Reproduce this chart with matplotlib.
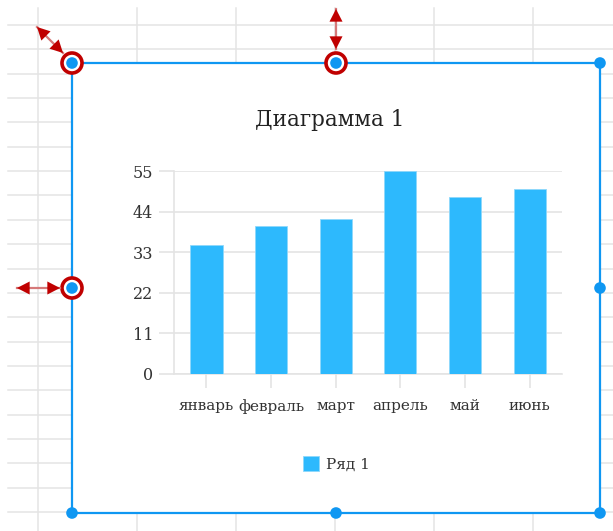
#!/usr/bin/env python3
"""Spreadsheet chart with selection handles, redrawn as a PNG."""
import matplotlib.pyplot as plt
from matplotlib.patches import Circle, Rectangle

# Data
months = ["январь", "февраль", "март", "апрель", "май", "июнь"]
values = [35, 40, 42, 55, 48, 50]
y_ticks = [0, 11, 22, 33, 44, 55]
series_name = "Ряд 1"
title = "Диаграмма 1"

# Colors
BAR = "#2db9fd"
SEL = "#0f97f2"
RED = "#c00000"
GRID = "#e4e4e4"
TEXT = "#333333"

W, H = 613, 531
plt.rcParams["font.family"] = ["DejaVu Serif"]
fig = plt.figure(figsize=(W / 100, H / 100), dpi=100)
fig.patch.set_facecolor("white")

# background layer in pixel coordinates
bg = fig.add_axes([0, 0, 1, 1])
bg.set_xlim(0, W)
bg.set_ylim(H, 0)
bg.axis("off")

# spreadsheet grid
for k in range(21):
    y = 25 + 24.35 * k
    bg.plot([8, W], [y, y], color=GRID, lw=1.1, zorder=1)
for k in range(6):
    x = 38 + 99 * k
    bg.plot([x, x], [8, H], color=GRID, lw=1.1, zorder=1)

# chart frame
x0, y0, x1, y1 = 72, 63, 600, 513
bg.add_patch(Rectangle((x0, y0), x1 - x0, y1 - y0, facecolor="white",
                       edgecolor=SEL, lw=1.6, zorder=2))

# red rings around active handles
xm, ym = (x0 + x1) / 2, (y0 + y1) / 2
for hx, hy in [(x0, y0), (xm, y0), (x0, ym)]:
    bg.add_patch(Circle((hx, hy), 10, facecolor="white", edgecolor=RED,
                        lw=2.6, zorder=3))

# handles
for hx, hy in [(x0, y0), (xm, y0), (x1, y0), (x0, ym), (x1, ym),
               (x0, y1), (xm, y1), (x1, y1)]:
    bg.add_patch(Circle((hx, hy), 5.8, facecolor=SEL, edgecolor="none", zorder=4))

# resize arrows: pale shaft, two solid heads
for (ax_, ay_), (bx_, by_) in [((37, 27), (63, 53)),
                               ((336, 9), (336, 49)),
                               ((17, 288), (60, 288))]:
    bg.plot([ax_, bx_], [ay_, by_], color="#d77a7a", lw=1.6, zorder=5)
    mx, my = (ax_ + bx_) / 2, (ay_ + by_) / 2
    for tx, ty in [(ax_, ay_), (bx_, by_)]:
        bg.annotate("", xy=(tx, ty), xytext=(mx, my),
                    arrowprops=dict(arrowstyle="-|>,head_length=0.7,head_width=0.36",
                                    color=RED, lw=0.01, mutation_scale=13,
                                    shrinkA=0, shrinkB=0),
                    zorder=6)

# the chart itself
left, right, top, bottom = 174, 562, 171, 374
ax = fig.add_axes([left / W, 1 - bottom / H, (right - left) / W, (bottom - top) / H])
ax.set_facecolor("none")
bars = ax.bar(range(len(months)), values, width=0.5, color=BAR,
              edgecolor="#8fd8fb", linewidth=0.6, zorder=3, label=series_name)
ax.set_xlim(-0.5, len(months) - 0.5)
ax.set_ylim(0, 55)
ax.set_yticks(y_ticks)
ax.set_xticks(range(len(months)))
ax.set_xticklabels(months)
ax.yaxis.grid(True, color=GRID, lw=1.2, zorder=0)
for s in ["top", "right"]:
    ax.spines[s].set_visible(False)
for s in ["left", "bottom"]:
    ax.spines[s].set_color(GRID)
    ax.spines[s].set_linewidth(1.2)
ax.tick_params(axis="y", length=11, width=1.2, color=GRID, labelsize=11.5,
               labelcolor=TEXT, pad=4)
ax.tick_params(axis="x", length=10, width=1.2, color=GRID, labelsize=11,
               labelcolor=TEXT, pad=8)

fig.text(330 / W, 1 - 120 / H, title, ha="center", va="center",
         fontsize=15.5, color="#222222")

fig.legend(handles=[bars], labels=[series_name], loc="center",
           bbox_to_anchor=(336 / W, 1 - 464 / H), frameon=False,
           fontsize=11, handlelength=1.1, handleheight=1.1,
           handletextpad=0.4, labelcolor=TEXT)

fig.savefig("out.png", dpi=100, facecolor="white")
